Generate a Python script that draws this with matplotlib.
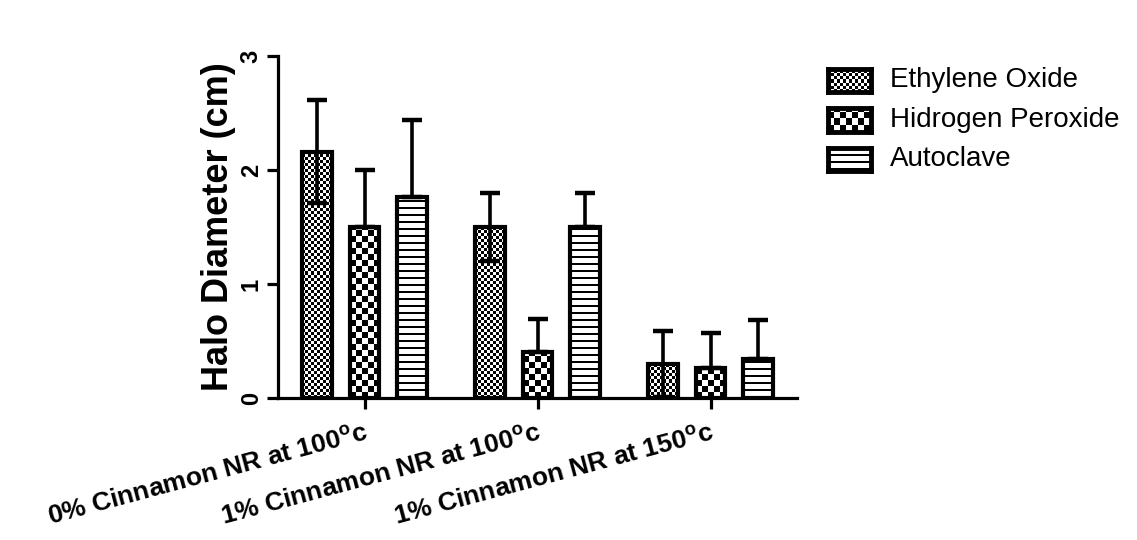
import numpy as np
import matplotlib
matplotlib.use("Agg")
import matplotlib.pyplot as plt

plt.rcParams["font.family"] = ["Liberation Sans", "DejaVu Sans"]
plt.rcParams["mathtext.fontset"] = "custom"
plt.rcParams["mathtext.rm"] = "Liberation Sans"
plt.rcParams["mathtext.bf"] = "Liberation Sans:bold"

categories = [r"0% Cinnamon NR at 100$^\mathbf{o}$c",
              r"1% Cinnamon NR at 100$^\mathbf{o}$c",
              r"1% Cinnamon NR at 150$^\mathbf{o}$c"]
series = ["Ethylene Oxide", "Hidrogen Peroxide", "Autoclave"]
ethylene_oxide = [2.16, 1.50, 0.30]
ethylene_oxide_err = [0.45, 0.30, 0.29]
hydrogen_peroxide = [1.50, 0.40, 0.26]
hydrogen_peroxide_err = [0.50, 0.29, 0.31]
autoclave = [1.76, 1.50, 0.34]
autoclave_err = [0.68, 0.30, 0.34]
y_ticks = [0, 1, 2, 3]

W, H = 1137, 540


# black/white fill patterns, one array cell per screen pixel
def pattern(kind, w, h):
    j, i = np.meshgrid(np.arange(w), np.arange(h))
    if kind == "fine":
        return ((i // 3 + j // 3) % 2).astype(float)
    if kind == "coarse":
        return ((i // 6 + j // 6) % 2).astype(float)
    return ((i % 7) >= 2).astype(float)


def fill_bars(ax, bars, kind):
    for rect in bars:
        x0, y0 = rect.get_x(), rect.get_y()
        x1, y1 = x0 + rect.get_width(), y0 + rect.get_height()
        p0 = ax.transData.transform((x0, y0))
        p1 = ax.transData.transform((x1, y1))
        wpx = max(int(round(p1[0] - p0[0])), 1)
        hpx = max(int(round(p1[1] - p0[1])), 1)
        ax.imshow(pattern(kind, wpx, hpx), extent=(x0, x1, y0, y1),
                  origin="lower", cmap="gray", vmin=0, vmax=1,
                  interpolation="nearest", aspect="auto", zorder=2)


fig = plt.figure(figsize=(W / 100, H / 100), dpi=100)
ax = fig.add_axes([278 / W, 1 - 398 / H, 519 / W, 342 / H])
ax.set_xlim(-0.5, 2.5)
ax.set_ylim(0, 3)

x = np.arange(len(categories))
offset = 0.272
width = 0.173
values = [ethylene_oxide, hydrogen_peroxide, autoclave]
errors = [ethylene_oxide_err, hydrogen_peroxide_err, autoclave_err]
kinds = ["fine", "coarse", "lines"]

for k in range(3):
    pos = x + (k - 1) * offset
    bars = ax.bar(pos, values[k], width, facecolor="none", edgecolor="black",
                  linewidth=3.0, zorder=3)
    fill_bars(ax, bars, kinds[k])
    # lower whisker only shows through the light fill of the first series
    lower = errors[k] if k == 0 else [0] * len(errors[k])
    ax.errorbar(pos, values[k], yerr=[lower, errors[k]], fmt="none",
                ecolor="black", elinewidth=2.6, capsize=7, capthick=3.2,
                zorder=4)

ax.set_xlim(-0.5, 2.5)
ax.set_ylim(0, 3)

for side in ["top", "right"]:
    ax.spines[side].set_visible(False)
for side in ["left", "bottom"]:
    ax.spines[side].set_linewidth(2.3)

ax.set_yticks(y_ticks)
ax.set_yticklabels([str(t) for t in y_ticks], fontsize=17, fontweight="bold",
                   rotation=90, va="center")
ax.tick_params(axis="y", length=8, width=2.3, pad=3)
ax.set_xticks(x)
ax.set_xticklabels(categories, fontsize=19, fontweight="bold", rotation=15,
                   ha="right", va="top", rotation_mode="anchor")
ax.tick_params(axis="x", length=8, width=2.3, pad=8)
ax.set_ylabel("Halo Diameter (cm)", fontsize=26, fontweight="bold", labelpad=3)

# legend swatches drawn as tiny axes so they carry the same fills
for k, yc in enumerate([80, 120, 159]):
    sw = fig.add_axes([828 / W, 1 - (yc + 11.5) / H, 43 / W, 23 / H])
    sw.imshow(pattern(kinds[k], 43, 23), cmap="gray", vmin=0, vmax=1,
              interpolation="nearest", aspect="auto", origin="lower")
    sw.set_xticks([])
    sw.set_yticks([])
    for s in sw.spines.values():
        s.set_linewidth(3.5)
    fig.text(890 / W, 1 - yc / H, series[k], fontsize=20, va="center")

fig.savefig("out.png", dpi=100, facecolor="white")
